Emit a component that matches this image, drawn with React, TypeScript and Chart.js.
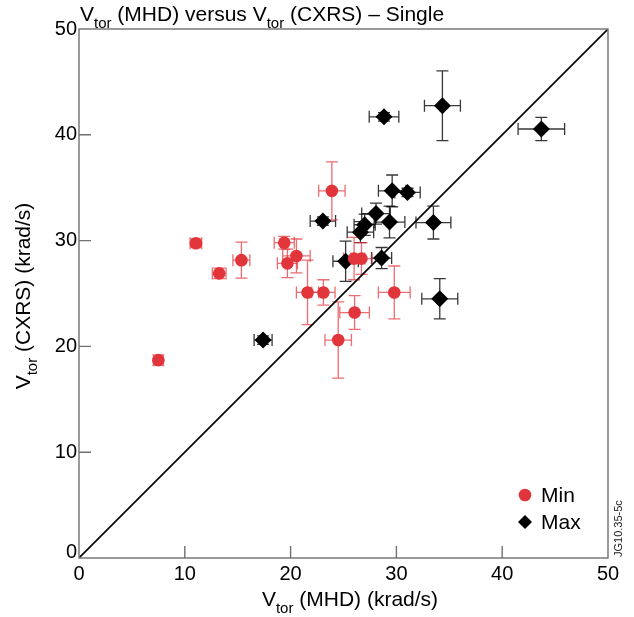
import React, { useEffect, useRef } from 'react';
import { Chart, registerables } from 'chart.js';

Chart.register(...registerables);

// ---- Data ----
const minX = [7.5, 11.05, 13.25, 15.35, 19.4, 19.7, 20.55, 21.6, 23.1, 23.9, 24.5, 26.05, 26.0, 26.7, 29.8];
const minY = [18.7, 29.75, 26.9, 28.15, 29.8, 27.85, 28.55, 25.1, 25.1, 34.7, 20.6, 23.2, 28.3, 28.3, 25.1];
const minXErr = [0.45, 0.55, 0.65, 0.8, 0.95, 0.95, 1.3, 1.05, 1.1, 1.25, 1.25, 1.4, 1.0, 1.0, 1.5];
const minYErr = [0.5, 0.4, 0.5, 1.7, 0.6, 1.35, 1.6, 3.05, 1.2, 2.75, 3.6, 1.6, 2.0, 1.5, 2.5];

const maxX = [17.4, 23.05, 25.2, 26.6, 27.0, 28.07, 28.6, 28.83, 29.35, 29.6, 31.05, 33.5, 34.1, 34.35, 43.7];
const maxY = [20.6, 31.85, 28.05, 30.8, 31.5, 32.55, 28.35, 41.7, 31.75, 34.7, 34.55, 31.7, 24.5, 42.75, 40.55];
const maxXErr = [0.85, 1.2, 1.2, 1.25, 1.0, 1.35, 0.95, 1.4, 1.45, 1.3, 1.2, 1.65, 1.7, 1.7, 2.2];
const maxYErr = [0.4, 0.4, 1.9, 1.0, 1.0, 1.0, 1.0, 0.4, 1.5, 1.5, 0.4, 1.55, 1.9, 3.3, 1.1];

const diagX = [0, 50];
const diagY = [0, 50];

const axisMin = 0;
const axisMax = 50;
const tickStep = 10;

const FONT = '"Liberation Sans", Arial, Helvetica, sans-serif';
const RED = '#e2353b';
const RED_ERR = 'rgba(226, 45, 52, 0.7)';
const BLACK_ERR = 'rgba(0, 0, 0, 0.78)';
const AXIS_COLOR = '#707070';
const TEXT_SIZE = 21;

type Part = { t: string; sub?: boolean };

function partFont(size: number, sub?: boolean) {
  return `${sub ? Math.round(size * 0.72) : size}px ${FONT}`;
}
function richWidth(ctx: CanvasRenderingContext2D, parts: Part[], size: number) {
  let w = 0;
  for (const p of parts) {
    ctx.font = partFont(size, p.sub);
    w += ctx.measureText(p.t).width;
  }
  return w;
}
function drawRich(ctx: CanvasRenderingContext2D, parts: Part[], x: number, y: number, size: number, align: 'left' | 'center') {
  let cx = x;
  if (align === 'center') cx = x - richWidth(ctx, parts, size) / 2;
  ctx.textAlign = 'left';
  ctx.textBaseline = 'alphabetic';
  for (const p of parts) {
    ctx.font = partFont(size, p.sub);
    ctx.fillText(p.t, cx, y + (p.sub ? size * 0.32 : 0));
    cx += ctx.measureText(p.t).width;
  }
}

const titleParts: Part[] = [
  { t: 'V' }, { t: 'tor', sub: true }, { t: ' (MHD) versus V' }, { t: 'tor', sub: true }, { t: ' (CXRS) \u2013 Single' },
];
const xTitleParts: Part[] = [{ t: 'V' }, { t: 'tor', sub: true }, { t: ' (MHD) (krad/s)' }];
const yTitleParts: Part[] = [{ t: 'V' }, { t: 'tor', sub: true }, { t: ' (CXRS) (krad/s)' }];

const errorBarPlugin = {
  id: 'errorBars',
  beforeDatasetsDraw(chart: any) {
    const { ctx, scales, chartArea } = chart;
    const xs = scales.x;
    const ys = scales.y;
    ctx.save();
    ctx.beginPath();
    ctx.rect(chartArea.left, chartArea.top, chartArea.right - chartArea.left, chartArea.bottom - chartArea.top);
    ctx.clip();
    const order = [1, 0];
    for (const di of order) {
      const ds = chart.data.datasets[di];
      if (!ds || !ds.errColor) continue;
      ctx.strokeStyle = ds.errColor;
      ctx.lineWidth = 1.3;
      for (const pt of ds.data) {
        const px = xs.getPixelForValue(pt.x);
        const py = ys.getPixelForValue(pt.y);
        const x1 = xs.getPixelForValue(pt.x - pt.xe);
        const x2 = xs.getPixelForValue(pt.x + pt.xe);
        const y1 = ys.getPixelForValue(pt.y - pt.ye);
        const y2 = ys.getPixelForValue(pt.y + pt.ye);
        const cap = 6;
        ctx.beginPath();
        ctx.moveTo(x1, py); ctx.lineTo(x2, py);
        ctx.moveTo(x1, py - cap); ctx.lineTo(x1, py + cap);
        ctx.moveTo(x2, py - cap); ctx.lineTo(x2, py + cap);
        ctx.moveTo(px, y1); ctx.lineTo(px, y2);
        ctx.moveTo(px - cap, y1); ctx.lineTo(px + cap, y1);
        ctx.moveTo(px - cap, y2); ctx.lineTo(px + cap, y2);
        ctx.stroke();
      }
    }
    ctx.restore();
  },
};

const decorPlugin = {
  id: 'decor',
  afterDraw(chart: any) {
    const { ctx, chartArea, scales } = chart;
    const { left, right, top, bottom } = chartArea;
    ctx.save();
    // frame
    ctx.strokeStyle = AXIS_COLOR;
    ctx.lineWidth = 1.4;
    ctx.strokeRect(left, top, right - left, bottom - top);
    // inward ticks
    ctx.beginPath();
    for (let v = axisMin + tickStep; v < axisMax; v += tickStep) {
      const px = scales.x.getPixelForValue(v);
      ctx.moveTo(px, bottom); ctx.lineTo(px, bottom - 12);
      const py = scales.y.getPixelForValue(v);
      ctx.moveTo(left, py); ctx.lineTo(left + 12, py);
    }
    ctx.stroke();

    ctx.fillStyle = '#000';
    // y "0" label (raised to sit above the x "0")
    ctx.font = `20px ${FONT}`;
    ctx.textAlign = 'right';
    ctx.textBaseline = 'alphabetic';
    ctx.fillText('0', left - 2, bottom);

    // title
    drawRich(ctx, titleParts, left + 1, 21, TEXT_SIZE, 'left');
    // x title
    drawRich(ctx, xTitleParts, 350, 606, TEXT_SIZE, 'center');
    // y title
    ctx.save();
    ctx.translate(30, 296);
    ctx.rotate(-Math.PI / 2);
    drawRich(ctx, yTitleParts, 0, 0, TEXT_SIZE, 'center');
    ctx.restore();

    // legend
    const lx = 525;
    ctx.fillStyle = RED;
    ctx.beginPath();
    ctx.arc(lx, 495, 6.3, 0, Math.PI * 2);
    ctx.fill();
    ctx.fillStyle = '#000';
    ctx.beginPath();
    ctx.moveTo(lx, 522 - 7); ctx.lineTo(lx + 7, 522); ctx.lineTo(lx, 522 + 7); ctx.lineTo(lx - 7, 522);
    ctx.closePath();
    ctx.fill();
    ctx.font = `${TEXT_SIZE}px ${FONT}`;
    ctx.textAlign = 'left';
    ctx.textBaseline = 'middle';
    ctx.fillText('Min', 541, 496);
    ctx.fillText('Max', 541, 523);

    // side code
    ctx.save();
    ctx.translate(622, 557);
    ctx.rotate(-Math.PI / 2);
    ctx.font = `11px ${FONT}`;
    ctx.fillStyle = '#222';
    ctx.textAlign = 'left';
    ctx.textBaseline = 'alphabetic';
    ctx.fillText('JG10.35-5c', 0, 0);
    ctx.restore();
    ctx.restore();
  },
};

export default function App() {
  const ref = useRef<HTMLCanvasElement | null>(null);

  useEffect(() => {
    document.body.style.margin = '0';
    const canvas = ref.current;
    if (!canvas) return;

    const minData = minX.map((x, i) => ({ x, y: minY[i], xe: minXErr[i], ye: minYErr[i] }));
    const maxData = maxX.map((x, i) => ({ x, y: maxY[i], xe: maxXErr[i], ye: maxYErr[i] }));
    const diagData = diagX.map((x, i) => ({ x, y: diagY[i] }));

    const chart = new Chart(canvas, {
      type: 'scatter',
      data: {
        datasets: [
          {
            label: 'Min',
            data: minData,
            pointStyle: 'circle',
            pointRadius: 6.3,
            backgroundColor: RED,
            borderColor: RED,
            borderWidth: 0,
            errColor: RED_ERR,
          } as any,
          {
            label: 'Max',
            data: maxData,
            pointStyle: 'rectRot',
            pointRadius: 8.5,
            backgroundColor: '#000',
            borderColor: '#000',
            borderWidth: 0,
            errColor: BLACK_ERR,
          } as any,
          {
            label: 'diag',
            data: diagData,
            showLine: true,
            pointRadius: 0,
            borderColor: '#000',
            borderWidth: 1.6,
            fill: false,
          } as any,
        ],
      },
      options: {
        animation: false,
        responsive: false,
        maintainAspectRatio: false,
        events: [],
        layout: { padding: { top: 29, right: 26, left: 0, bottom: 0 } },
        plugins: {
          legend: { display: false },
          title: { display: false },
          tooltip: { enabled: false },
        },
        scales: {
          x: {
            type: 'linear',
            min: axisMin,
            max: axisMax,
            ticks: { stepSize: tickStep, color: '#000', font: { family: FONT, size: 20 }, padding: 4, maxRotation: 0 },
            grid: { display: false, drawTicks: false },
            border: { display: false },
            afterFit: (s: any) => { s.height = 59; },
          },
          y: {
            type: 'linear',
            min: axisMin,
            max: axisMax,
            ticks: {
              stepSize: tickStep,
              color: '#000',
              font: { family: FONT, size: 20 },
              padding: 2,
              callback: (v: any) => (Number(v) === 0 ? '' : String(v)),
            },
            grid: { display: false, drawTicks: false },
            border: { display: false },
            afterFit: (s: any) => { s.width = 79; },
          },
        },
      },
      plugins: [errorBarPlugin, decorPlugin],
    });

    return () => chart.destroy();
  }, []);

  return (
    <div style={{ width: 634, height: 617, background: '#fff' }}>
      <canvas ref={ref} width={634} height={617} style={{ display: 'block' }} />
    </div>
  );
}
